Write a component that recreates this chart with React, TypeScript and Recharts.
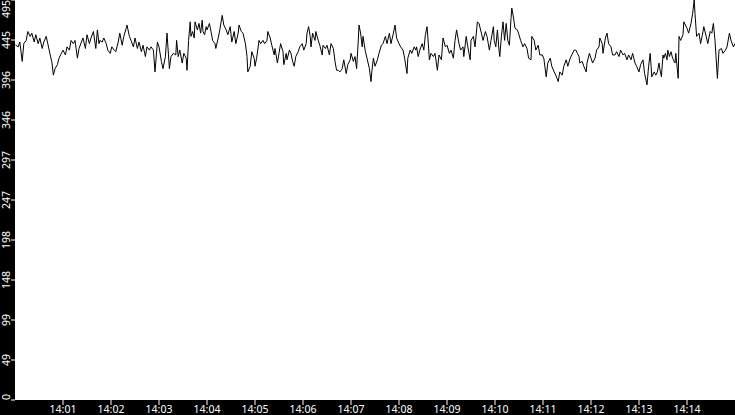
import { LineChart, Line, XAxis, YAxis, CartesianGrid } from 'recharts';

// seconds after 14:00:00
const SECONDS = [
  0, 1, 4, 6, 9, 11, 14, 16, 19, 21, 24, 26, 29, 31, 34, 36, 39, 41, 44, 46,
  48, 50, 53, 55, 58, 60, 63, 65, 68, 70, 73, 75, 78, 80, 83, 85, 88, 90, 93, 95, 98,
  101, 103, 105, 106, 109, 111, 114, 116, 119, 121, 124, 126, 129, 131, 134, 136, 139, 140, 143, 145,
  148, 150, 153, 155, 158, 160, 163, 165, 168, 170, 173, 175, 178, 180, 183, 185, 188, 190, 193, 195, 198,
  201, 202, 204, 206, 209, 211, 214, 215, 217, 219, 220, 222, 224, 225, 228, 230, 232, 234, 235, 237,
  239, 240, 243, 245, 247, 250, 251, 254, 256, 259, 261, 264, 266, 269, 271, 274, 276, 279, 280, 283,
  285, 288, 290, 291, 294, 296, 299,
  300, 302, 304, 305, 307, 310, 312, 315, 316, 319, 321, 324, 325, 328, 330, 332, 335, 336, 339, 340,
  343, 345, 347, 349, 351, 354, 356, 359, 361, 364, 365, 367, 369, 370, 372, 375, 376, 379, 381, 384,
  385, 388, 390, 393, 395, 398, 400,
  402, 404, 406, 409, 411, 414, 416, 419, 420, 423, 425, 427, 429, 430, 432, 434, 435, 438, 440, 443,
  445, 446, 448, 450, 453, 455, 458, 460, 463, 465, 468, 470, 473, 475, 477, 480, 482, 485, 487, 490,
  491, 494, 496, 499,
  501, 502, 504, 506, 509, 511, 513, 515, 516, 518, 520, 523, 525, 528, 530, 533, 535, 538, 540, 543,
  545, 548, 550, 552, 555, 557, 560, 561, 564, 566, 569, 570, 573, 575, 578, 580, 583, 585, 588, 590,
  593, 595, 598,
  599, 601, 603, 605, 606, 608, 610, 612, 614, 616, 618, 620, 621, 623, 625, 628, 630, 632, 635, 637,
  640, 642, 645, 646, 649, 651, 654, 656, 659, 661, 664, 666, 669, 671, 674, 676, 679, 681, 684, 686,
  689, 691, 694, 696, 699,
  701, 703, 705, 706, 709, 711, 714, 715, 718, 720, 722, 725, 727, 730, 731, 734, 735, 738, 740, 742,
  745, 747, 750, 752, 755, 757, 760, 762, 765, 767, 770, 772, 775, 777, 780, 782, 785, 787, 790, 792,
  794, 796, 799,
  801, 803, 805, 806, 808, 810, 811, 813, 815, 816, 818, 820, 822, 825, 826, 829, 830, 832, 835, 836,
  839, 840, 842, 845, 847, 849, 850, 852, 855, 857, 860, 861, 864, 866, 869, 871, 873, 875, 878, 880,
  883, 885, 888, 890, 893, 895, 898, 900,
];

const VALUES = [
  440, 439, 437, 443, 419, 441, 445, 456, 450, 454, 443, 452, 441, 448, 435, 443, 450, 441, 427, 419,
  402, 410, 415, 423, 429, 433, 427, 437, 433, 445, 441, 445, 423, 435, 443, 448, 435, 452, 441, 448, 456,
  435, 458, 441, 445, 443, 448, 441, 433, 429, 437, 433, 431, 443, 454, 439, 450, 460, 464, 450, 445,
  437, 448, 435, 443, 431, 439, 425, 437, 433, 437, 433, 406, 443, 437, 419, 410, 425, 454, 410, 425, 429,
  427, 445, 425, 433, 417, 429, 423, 408, 445, 468, 450, 456, 448, 468, 458, 466, 454, 470, 456, 452,
  462, 458, 466, 456, 445, 441, 435, 448, 458, 476, 464, 458, 452, 462, 443, 456, 441, 454, 464, 456,
  454, 441, 425, 406, 413, 431, 423,
  413, 423, 437, 445, 441, 445, 441, 445, 456, 448, 439, 427, 435, 417, 429, 441, 431, 415, 429, 421,
  433, 429, 419, 413, 425, 431, 437, 441, 433, 441, 454, 462, 450, 437, 454, 445, 456, 445, 439, 427,
  439, 435, 439, 427, 441, 435, 419,
  408, 408, 406, 410, 421, 404, 415, 421, 429, 419, 425, 410, 443, 464, 454, 437, 450, 431, 423, 410,
  394, 406, 423, 413, 421, 429, 439, 441, 450, 441, 454, 441, 454, 464, 448, 441, 437, 433, 423, 404,
  423, 433, 429, 437,
  433, 437, 425, 433, 441, 433, 452, 462, 450, 421, 429, 425, 429, 408, 427, 421, 448, 437, 439, 429,
  433, 423, 445, 458, 441, 433, 437, 425, 450, 437, 421, 445, 450, 437, 468, 466, 454, 445, 456, 450,
  433, 445, 462,
  445, 437, 458, 433, 425, 450, 468, 445, 466, 445, 439, 472, 485, 474, 460, 458, 452, 445, 437, 441,
  435, 423, 421, 450, 445, 433, 439, 427, 427, 423, 400, 417, 423, 413, 406, 402, 394, 406, 402, 413,
  421, 413, 423, 427, 433,
  433, 429, 425, 417, 419, 413, 406, 417, 429, 423, 417, 423, 433, 437, 448, 441, 429, 448, 454, 441,
  437, 427, 427, 431, 425, 433, 427, 429, 421, 427, 421, 429, 417, 413, 406, 415, 421, 404, 390, 413,
  429, 400, 406,
  402, 406, 417, 410, 400, 427, 423, 429, 421, 433, 425, 431, 423, 417, 429, 398, 450, 445, 452, 468,
  462, 460, 454, 466, 478, 495, 478, 450, 454, 441, 456, 462, 450, 441, 456, 454, 466, 445, 398, 433,
  435, 429, 433, 437, 454, 445, 437, 441,
];

const TIME_TICKS = [60, 120, 180, 240, 300, 360, 420, 480, 540, 600, 660, 720, 780, 840];
const VALUE_TICKS = [0, 49.5, 99, 148.5, 198, 247.5, 297, 346.5, 396, 445.5, 495];

const rows = SECONDS.map((t, i) => ({ t, value: VALUES[i] }));

const FONT = 'Noto Sans';

const fmtTime = (t: number) => `14:${String(Math.floor(t / 60)).padStart(2, '0')}`;

// rotated y labels; the two end labels are pushed inside the strip
const YTick = (props: any) => {
  const { x, y, payload, index } = props;
  const last = VALUE_TICKS.length - 1;
  const anchor = index === 0 ? 'start' : index === last ? 'end' : 'middle';
  return (
    <text
      x={x}
      y={y}
      transform={`rotate(-90, ${x}, ${y})`}
      textAnchor={anchor}
      fill="#fff"
      fontSize={10.5}
      fontFamily={FONT}
    >
      {Math.floor(payload.value)}
    </text>
  );
};

export default function App() {
  return (
    <div style={{ position: 'fixed', top: 0, left: 0, width: 735, height: 415, background: '#000' }}>
      <LineChart width={735} height={415} data={rows} margin={{ top: 0, right: 0, bottom: 0, left: 0 }}>
        <CartesianGrid fill="#fff" stroke="none" horizontal={false} vertical={false} />
        <XAxis
          dataKey="t"
          type="number"
          domain={[0, 900]}
          ticks={TIME_TICKS}
          interval={0}
          tickFormatter={fmtTime}
          height={15}
          axisLine={false}
          tickLine={{ stroke: '#fff' }}
          tickSize={5}
          tickMargin={1}
          tick={{ fill: '#fff', fontSize: 10.5, fontFamily: FONT }}
        />
        <YAxis
          type="number"
          domain={[0, 495]}
          ticks={VALUE_TICKS}
          interval={0}
          width={15}
          axisLine={false}
          tickLine={{ stroke: '#fff' }}
          tickSize={4}
          tickMargin={1}
          tick={<YTick />}
        />
        <Line
          type="linear"
          dataKey="value"
          stroke="#000"
          strokeWidth={1}
          dot={false}
          isAnimationActive={false}
        />
      </LineChart>
    </div>
  );
}
